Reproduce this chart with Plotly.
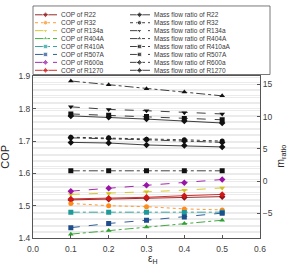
import plotly.graph_objects as go

eps = [0.1, 0.2, 0.3, 0.4, 0.5]
refrigerants = ["R22", "R32", "R134a", "R404A", "R410A", "R507A", "R600a", "R1270"]
mass_names = ["R22", "R32", "R134a", "R404A", "R410aA", "R507A", "R600a", "R1270"]

cop_R22 = [1.518, 1.520, 1.522, 1.525, 1.528]
cop_R32 = [1.507, 1.500, 1.497, 1.490, 1.487]
cop_R134a = [1.535, 1.538, 1.543, 1.548, 1.555]
cop_R404A = [1.412, 1.423, 1.434, 1.445, 1.455]
cop_R410A = [1.480, 1.480, 1.480, 1.479, 1.480]
cop_R507A = [1.432, 1.445, 1.455, 1.465, 1.477]
cop_R600a = [1.545, 1.554, 1.563, 1.571, 1.581]
cop_R1270 = [1.521, 1.523, 1.526, 1.531, 1.535]

mr_R22 = [10.1, 9.9, 9.6, 9.3, 9.0]
mr_R32 = [6.8, 6.7, 6.5, 6.4, 6.2]
mr_R134a = [11.5, 11.1, 10.9, 10.6, 10.4]
mr_R404A = [15.5, 14.9, 14.3, 13.8, 13.2]
mr_R410aA = [1.6, 1.6, 1.6, 1.6, 1.6]
mr_R507A = [10.4, 10.2, 10.0, 9.7, 9.5]
mr_R600a = [6.7, 6.6, 6.4, 6.2, 6.0]
mr_R1270 = [6.0, 5.9, 5.6, 5.5, 5.3]

cop_data = [cop_R22, cop_R32, cop_R134a, cop_R404A, cop_R410A, cop_R507A, cop_R600a, cop_R1270]
mr_data = [mr_R22, mr_R32, mr_R134a, mr_R404A, mr_R410aA, mr_R507A, mr_R600a, mr_R1270]

colors = ["#8b1414", "#ff8c1a", "#d2c21a", "#2ea02e", "#1f9a9a", "#1f4e8c", "#9a12a8", "#d01818"]
symbols = ["diamond", "circle", "triangle-down", "triangle-up", "square", "square", "diamond", "diamond"]
cop_dash = ["solid", "dot", "dash", "dashdot", "dashdot", "dash", "dash", "solid"]
mr_dash = ["solid", "dot", "dash", "dashdot", "dashdot", "dash", "dashdot", "solid"]

fig = go.Figure()

for i, name in enumerate(refrigerants):
    fig.add_trace(go.Scatter(
        x=eps, y=cop_data[i], mode="lines+markers", name="COP of " + name,
        line=dict(color=colors[i], width=0.9, dash=cop_dash[i]),
        marker=dict(color=colors[i], symbol=symbols[i], size=5),
        xaxis="x", yaxis="y"))

for i, name in enumerate(mass_names):
    fig.add_trace(go.Scatter(
        x=eps, y=mr_data[i], mode="lines+markers", name="Mass flow ratio of " + name,
        line=dict(color="#111111", width=0.8, dash=mr_dash[i]),
        marker=dict(color="#111111", symbol=symbols[i], size=5),
        xaxis="x", yaxis="y2"))

# manual legend (pixel-like coordinates on a hidden axis)
row0, drow = 10, 8.1
annotations = []
for i, name in enumerate(refrigerants):
    yy = row0 + drow * i
    fig.add_trace(go.Scatter(
        x=[35, 45.5, 57], y=[yy, yy, yy], mode="lines+markers",
        line=dict(color=colors[i], width=0.9, dash=cop_dash[i]),
        marker=dict(color=colors[i], symbol=symbols[i], size=[0, 4.5, 0]),
        xaxis="x3", yaxis="y3", hoverinfo="skip"))
    annotations.append(dict(x=59, y=yy, xref="x3", yref="y3", text="COP of " + name,
                            showarrow=False, xanchor="left", yanchor="middle",
                            font=dict(size=6.5, color="#3a3a3a")))
for i, name in enumerate(mass_names):
    yy = row0 + drow * i
    fig.add_trace(go.Scatter(
        x=[130, 139.5, 150], y=[yy, yy, yy], mode="lines+markers",
        line=dict(color="#111111", width=0.8, dash=mr_dash[i]),
        marker=dict(color="#111111", symbol=symbols[i], size=[0, 4.5, 0]),
        xaxis="x3", yaxis="y3", hoverinfo="skip"))
    annotations.append(dict(x=152, y=yy, xref="x3", yref="y3", text="Mass flow ratio of " + name,
                            showarrow=False, xanchor="left", yanchor="middle",
                            font=dict(size=6.5, color="#3a3a3a")))

plot_h = 238.0
W = 227.0
annotations += [
    dict(x=(5 - 33) / W, y=(plot_h - 155) / plot_h, xref="paper", yref="paper", text="COP",
         textangle=-90, showarrow=False, xanchor="center", yanchor="middle",
         font=dict(size=11, color="#262626")),
    dict(x=(281 - 33) / W, y=(plot_h - 155) / plot_h, xref="paper", yref="paper",
         text="m<sub>ratio</sub>", textangle=-90, showarrow=False,
         xanchor="center", yanchor="middle",
         font=dict(size=10.5, color="#262626")),
    dict(x=(153 - 33) / W, y=(plot_h - 259) / plot_h, xref="paper", yref="paper",
         text="ε<sub>H</sub>", showarrow=False, xanchor="center", yanchor="middle",
         font=dict(size=10, color="#262626")),
]

tickfont = dict(size=8.5, color="#404040", family="Liberation Sans, Arial, sans-serif")
grid_c = "#ebebeb"

fig.update_layout(
    width=290, height=267,
    margin=dict(l=33, r=30, t=0, b=29),
    paper_bgcolor="white", plot_bgcolor="white",
    showlegend=False,
    font=dict(family="Liberation Sans, Arial, sans-serif"),
    xaxis=dict(domain=[0, 1], anchor="y", range=[0, 0.6], dtick=0.1, tickformat=".1f",
               showgrid=False, zeroline=False, showline=True, linecolor="#555555",
               linewidth=1, mirror=True, ticks="inside", ticklen=3, tickcolor="#555555",
               tickfont=tickfont, ticklabelstandoff=3),
    yaxis=dict(domain=[0, 165 / plot_h], anchor="x", range=[1.4, 1.9], dtick=0.1,
               tickformat=".1f", showgrid=True, gridcolor=grid_c, gridwidth=0.6,
               zeroline=False, showline=True, linecolor="#555555", linewidth=1,
               ticks="inside", ticklen=3, tickcolor="#555555", tickfont=tickfont,
               minor=dict(dtick=0.02, showgrid=True, gridcolor=grid_c, gridwidth=0.6)),
    yaxis2=dict(overlaying="y", side="right", anchor="x", range=[-8.8, 16.2],
                tickvals=[-5, 0, 5, 10, 15], showgrid=False,
                zeroline=False, showline=True, linecolor="#555555", linewidth=1,
                ticks="inside", ticklen=3, tickcolor="#555555", tickfont=tickfont,
                minor=dict(dtick=1, showgrid=True, gridcolor=grid_c, gridwidth=0.6)),
    xaxis3=dict(domain=[0, 1], anchor="y3", range=[33, 260], visible=False, fixedrange=True),
    yaxis3=dict(domain=[(plot_h - 71) / plot_h, (plot_h - 1) / plot_h], anchor="x3",
                range=[71, 1], visible=False, fixedrange=True),
    annotations=annotations,
    shapes=[dict(type="rect", xref="paper", yref="paper",
                 x0=0, x1=(270 - 33) / W,
                 y0=(plot_h - 71) / plot_h, y1=(plot_h - 1) / plot_h,
                 line=dict(color="#555555", width=0.8), fillcolor="rgba(0,0,0,0)")],
)

fig.write_html("out.html")
